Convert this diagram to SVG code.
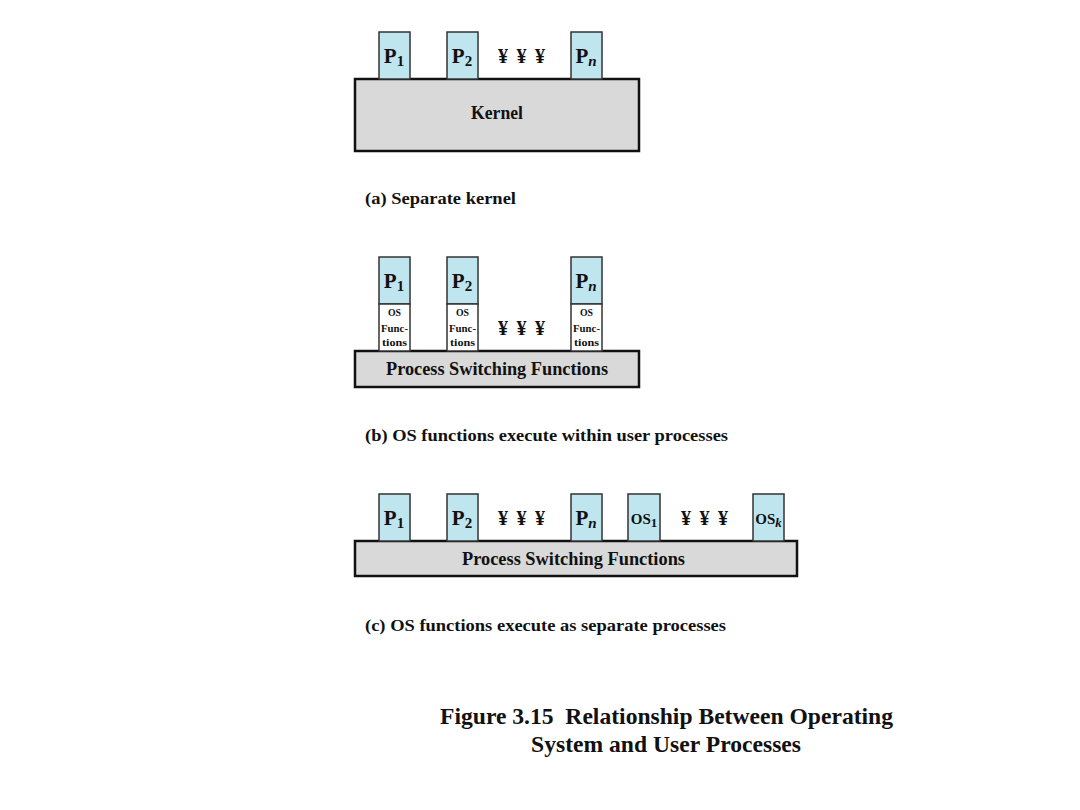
<svg xmlns="http://www.w3.org/2000/svg" width="1080" height="810" viewBox="0 0 1080 810">
<style>
text{font-family:"Liberation Serif","Times New Roman",serif;font-weight:bold;fill:#111}
.proc{fill:#bfe6ef;stroke:#333;stroke-width:1.5}
.osf{fill:#fff;stroke:#333;stroke-width:1.5}
.bar{fill:#d9d9d9;stroke:#111;stroke-width:2.5}
.pl{font-size:21px;text-anchor:middle}
.sub{font-size:15px}
.dots{font-size:20px}
.tiny{font-size:10px}
.cap{font-size:17.5px}
.title{font-size:23px}
.bl{font-size:18px}
</style>
<rect width="1080" height="810" fill="#fff"/>
<!-- Panel (a) -->
<g id="a-kernel"><rect class="bar" x="355" y="79" width="284" height="72"/><text class="bl" x="471" y="119" textLength="52" lengthAdjust="spacingAndGlyphs">Kernel</text></g>
<g id="a-p1"><rect class="proc" x="379" y="32" width="31" height="47"/><text class="pl" x="394" y="63">P<tspan class="sub" dy="3">1</tspan></text></g>
<g id="a-p2"><rect class="proc" x="447" y="32" width="31" height="47"/><text class="pl" x="462" y="63">P<tspan class="sub" dy="3">2</tspan></text></g>
<g id="a-dots"><text class="dots" x="498" y="63" textLength="47" lengthAdjust="spacing">¥ ¥ ¥</text></g>
<g id="a-pn"><rect class="proc" x="571" y="32" width="31" height="47"/><text class="pl" x="586" y="63">P<tspan class="sub" dy="3" font-style="italic">n</tspan></text></g>
<text class="cap" x="365" y="204" textLength="151" lengthAdjust="spacingAndGlyphs">(a) Separate kernel</text>
<!-- Panel (b) -->
<g id="b-bar"><rect class="bar" x="355" y="351" width="284" height="36"/><text class="bl" x="386" y="375" textLength="222" lengthAdjust="spacingAndGlyphs">Process Switching Functions</text></g>
<g id="b-p1"><rect class="proc" x="379" y="257" width="31" height="47"/><rect class="osf" x="379" y="304" width="31" height="47"/><text class="pl" x="394" y="288">P<tspan class="sub" dy="3">1</tspan></text><text class="tiny" x="388" y="316" textLength="13" lengthAdjust="spacingAndGlyphs">OS</text><text class="tiny" x="381" y="332" textLength="27" lengthAdjust="spacingAndGlyphs">Func-</text><text class="tiny" x="382" y="346" textLength="25" lengthAdjust="spacingAndGlyphs">tions</text></g>
<g id="b-p2"><rect class="proc" x="447" y="257" width="31" height="47"/><rect class="osf" x="447" y="304" width="31" height="47"/><text class="pl" x="462" y="288">P<tspan class="sub" dy="3">2</tspan></text><text class="tiny" x="456" y="316" textLength="13" lengthAdjust="spacingAndGlyphs">OS</text><text class="tiny" x="449" y="332" textLength="27" lengthAdjust="spacingAndGlyphs">Func-</text><text class="tiny" x="450" y="346" textLength="25" lengthAdjust="spacingAndGlyphs">tions</text></g>
<g id="b-dots"><text class="dots" x="498" y="335" textLength="47" lengthAdjust="spacing">¥ ¥ ¥</text></g>
<g id="b-pn"><rect class="proc" x="571" y="257" width="31" height="47"/><rect class="osf" x="571" y="304" width="31" height="47"/><text class="pl" x="586" y="288">P<tspan class="sub" dy="3" font-style="italic">n</tspan></text><text class="tiny" x="580" y="316" textLength="13" lengthAdjust="spacingAndGlyphs">OS</text><text class="tiny" x="573" y="332" textLength="27" lengthAdjust="spacingAndGlyphs">Func-</text><text class="tiny" x="574" y="346" textLength="25" lengthAdjust="spacingAndGlyphs">tions</text></g>
<text class="cap" x="365" y="441" textLength="363" lengthAdjust="spacingAndGlyphs">(b) OS functions execute within user processes</text>
<!-- Panel (c) -->
<g id="c-bar"><rect class="bar" x="355" y="541" width="442" height="35"/><text class="bl" x="462" y="565" textLength="223" lengthAdjust="spacingAndGlyphs">Process Switching Functions</text></g>
<g id="c-p1"><rect class="proc" x="379" y="494" width="31" height="47"/><text class="pl" x="394" y="525">P<tspan class="sub" dy="3">1</tspan></text></g>
<g id="c-p2"><rect class="proc" x="447" y="494" width="31" height="47"/><text class="pl" x="462" y="525">P<tspan class="sub" dy="3">2</tspan></text></g>
<g id="c-dots1"><text class="dots" x="498" y="525" textLength="47" lengthAdjust="spacing">¥ ¥ ¥</text></g>
<g id="c-pn"><rect class="proc" x="571" y="494" width="31" height="47"/><text class="pl" x="586" y="525">P<tspan class="sub" dy="3" font-style="italic">n</tspan></text></g>
<g id="c-os1"><rect class="proc" x="628" y="494" width="32" height="47"/><text x="644" y="524" font-size="15" text-anchor="middle">OS<tspan font-size="13" dy="3">1</tspan></text></g>
<g id="c-dots2"><text class="dots" x="681" y="525" textLength="47" lengthAdjust="spacing">¥ ¥ ¥</text></g>
<g id="c-osk"><rect class="proc" x="753" y="494" width="31" height="47"/><text x="768.5" y="524" font-size="15" text-anchor="middle">OS<tspan font-size="13" dy="3" font-style="italic">k</tspan></text></g>
<text class="cap" x="365" y="631" textLength="361" lengthAdjust="spacingAndGlyphs">(c) OS functions execute as separate processes</text>
<!-- Title -->
<text class="title" x="440" y="724" textLength="453" lengthAdjust="spacingAndGlyphs" xml:space="preserve">Figure 3.15  Relationship Between Operating</text>
<text class="title" x="531" y="752" textLength="270" lengthAdjust="spacingAndGlyphs">System and User Processes</text>
</svg>
